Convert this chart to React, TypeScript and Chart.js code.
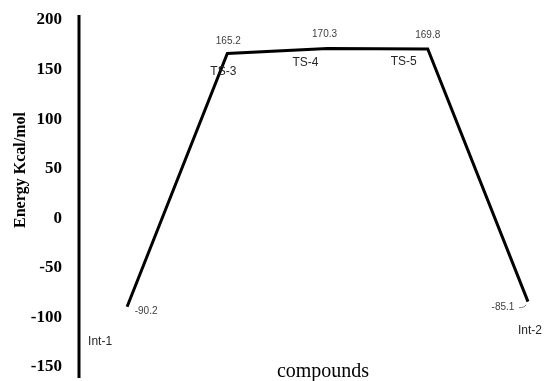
import React, { useEffect, useRef } from "react";
import { Chart, registerables } from "chart.js";

Chart.register(...registerables);

const compounds = ["Int-1", "TS-3", "TS-4", "TS-5", "Int-2"];
const positions = [1, 2, 3, 4, 5];
const energies = [-90.2, 165.2, 170.3, 169.8, -85.1];
const valueLabels = ["-90.2", "165.2", "170.3", "169.8", "-85.1"];
const yTicks = [200, 150, 100, 50, 0, -50, -100, -150];

// label offsets relative to each point: [valueDx, valueDy, nameDx, nameDy]
const labelOffsets = [
  [19, 5, -27, 35],
  [1, -12, -4, 18],
  [-3, -14, -22, 14],
  [0, -14, -24, 13],
  [-25, 6, 2, 29],
];

const labelPlugin = {
  id: "labelPlugin",
  afterDraw(chart: any) {
    const ctx = chart.ctx;
    const xs = chart.scales.x;
    const ys = chart.scales.y;
    const left = chart.chartArea.left;
    ctx.save();
    // y axis line
    ctx.strokeStyle = "#000";
    ctx.lineWidth = 3;
    ctx.beginPath();
    ctx.moveTo(left, ys.getPixelForValue(204));
    ctx.lineTo(left, ys.getPixelForValue(-162));
    ctx.stroke();

    // y tick labels
    ctx.fillStyle = "#000";
    ctx.textAlign = "right";
    ctx.textBaseline = "middle";
    ctx.font = "bold 17px 'Liberation Serif', 'Times New Roman', serif";
    for (const t of yTicks) {
      ctx.fillText(String(t), left - 17, ys.getPixelForValue(t) + 1);
    }

    ctx.textAlign = "center";
    for (let i = 0; i < energies.length; i++) {
      const px = xs.getPixelForValue(positions[i]);
      const py = ys.getPixelForValue(energies[i]);
      const o = labelOffsets[i];
      ctx.fillStyle = "#404040";
      ctx.font = "10px 'Liberation Sans', Arial, sans-serif";
      ctx.fillText(valueLabels[i], px + o[0], py + o[1]);
      ctx.fillStyle = "#262626";
      ctx.font = "12px 'Liberation Sans', Arial, sans-serif";
      ctx.fillText(compounds[i], px + o[2], py + o[3]);
    }
    // leader line for Int-2 value
    const lx = xs.getPixelForValue(positions[4]);
    const ly = ys.getPixelForValue(energies[4]);
    ctx.strokeStyle = "#808080";
    ctx.lineWidth = 1;
    ctx.beginPath();
    ctx.moveTo(lx - 9, ly + 6);
    ctx.quadraticCurveTo(lx - 3, ly + 6, lx - 2, ly + 3);
    ctx.stroke();

    // axis titles
    ctx.fillStyle = "#000";
    ctx.font = "20px 'Liberation Serif', 'Times New Roman', serif";
    ctx.fillText("compounds", 323, 372);
    ctx.save();
    ctx.translate(21, 170);
    ctx.rotate(-Math.PI / 2);
    ctx.font = "bold 16px 'Liberation Serif', 'Times New Roman', serif";
    ctx.fillText("Energy Kcal/mol", 0, 0);
    ctx.restore();
    ctx.restore();
  },
};

export default function App() {
  const ref = useRef<HTMLCanvasElement>(null);
  useEffect(() => {
    const chart = new Chart(ref.current!, {
      type: "line",
      data: {
        datasets: [
          {
            data: positions.map((x, i) => ({ x, y: energies[i] })),
            borderColor: "#000",
            borderWidth: 3,
            pointRadius: 0,
            tension: 0,
            fill: false,
          },
        ],
      },
      options: {
        animation: false,
        responsive: false,
        maintainAspectRatio: false,
        layout: { padding: { top: 19, bottom: 15, left: 79, right: 5 } },
        plugins: { legend: { display: false }, tooltip: { enabled: false } },
        scales: {
          x: {
            type: "linear",
            min: 0.52,
            max: 5.12,
            display: false,
          },
          y: {
            min: -150,
            max: 200,
            display: false,
          },
        },
      },
      plugins: [labelPlugin],
    });
    return () => chart.destroy();
  }, []);
  return (
    <div style={{ position: "fixed", left: 0, top: 0, width: 545, height: 381, background: "#fff" }}>
      <canvas ref={ref} width={545} height={381} style={{ width: 545, height: 381 }} />
    </div>
  );
}
